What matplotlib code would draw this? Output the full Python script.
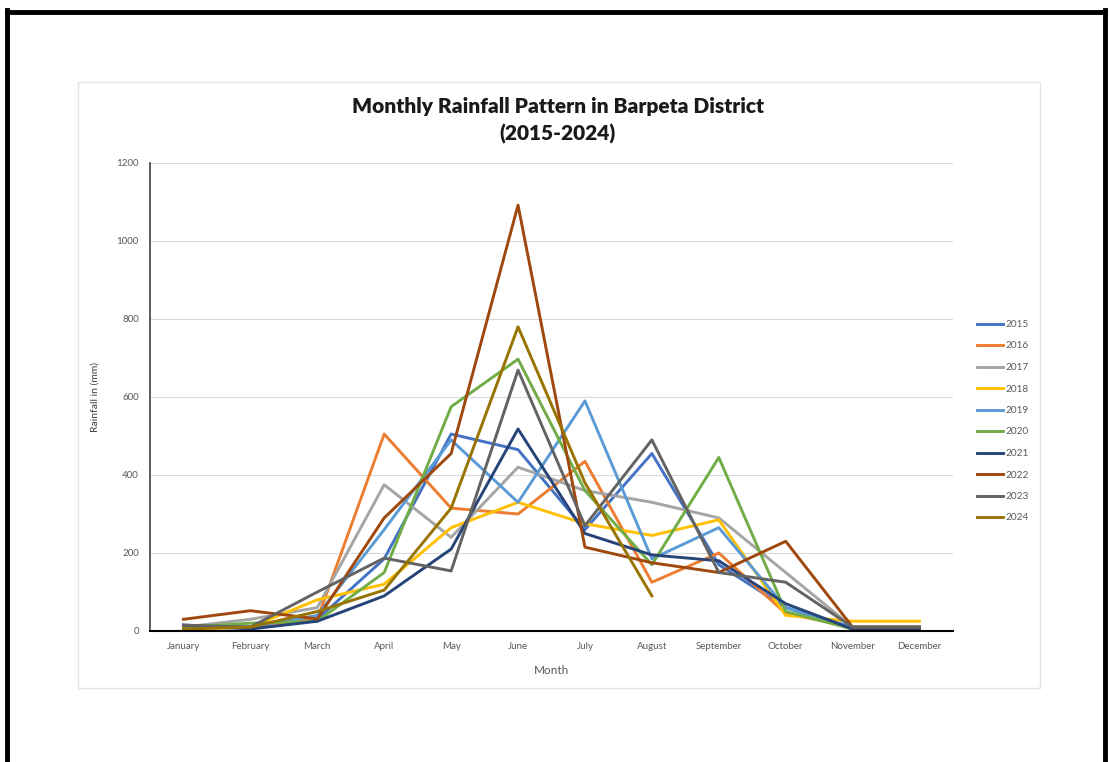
import numpy as np
import matplotlib
matplotlib.use("Agg")
import matplotlib.pyplot as plt
from matplotlib.lines import Line2D
from matplotlib.patches import Rectangle

plt.rcParams['font.family'] = ['Lato', 'DejaVu Sans']

months = ['January', 'February', 'March', 'April', 'May', 'June', 'July',
          'August', 'September', 'October', 'November', 'December']
years = ['2015', '2016', '2017', '2018', '2019', '2020', '2021', '2022', '2023', '2024']

# monthly rainfall (mm)
r2015 = [15, 10, 30, 185, 505, 465, 260, 455, 170, 60, 5, 5]
r2016 = [5, 10, 30, 505, 315, 300, 435, 125, 200, 45, 10, 10]
r2017 = [10, 30, 60, 375, 240, 420, 360, 330, 290, 150, 10, 10]
r2018 = [5, 10, 80, 120, 265, 330, 275, 245, 285, 40, 25, 25]
r2019 = [10, 10, 40, 260, 490, 330, 590, 185, 265, 60, 10, 10]
r2020 = [10, 20, 25, 150, 575, 697, 360, 170, 445, 50, 5, 5]
r2021 = [15, 5, 25, 90, 210, 518, 250, 195, 180, 70, 5, 5]
r2022 = [30, 52, 31, 290, 455, 1092, 215, 175, 150, 230, 10, 10]
r2023 = [15, 10, 100, 187, 154, 669, 270, 490, 150, 125, 10, 10]
r2024 = [5, 10, 50, 105, 315, 780, 380, 90, np.nan, np.nan, np.nan, np.nan]

series = [r2015, r2016, r2017, r2018, r2019, r2020, r2021, r2022, r2023, r2024]
colors = ['#4472C4', '#ED7D31', '#A5A5A5', '#FFC000', '#5B9BD5',
          '#70AD47', '#264478', '#9E480E', '#636363', '#997300']

W, H = 1109, 762
fig = plt.figure(figsize=(W / 100, H / 100), dpi=100)
fig.patch.set_facecolor('white')

# outer black frame (left, top, right)
fig.add_artist(Line2D([7 / W, 7 / W], [0, 1 - 10 / H], transform=fig.transFigure,
                      color='black', lw=3.5))
fig.add_artist(Line2D([7 / W, 1105 / W], [1 - 12 / H, 1 - 12 / H], transform=fig.transFigure,
                      color='black', lw=3.5))
fig.add_artist(Line2D([1105 / W, 1105 / W], [0, 1 - 10 / H], transform=fig.transFigure,
                      color='black', lw=3.5))

# chart area box
fig.add_artist(Rectangle((78 / W, 1 - 688 / H), (1040 - 78) / W, (688 - 82) / H,
                         transform=fig.transFigure, fill=False, edgecolor='#E4E4E4', lw=1))

ax = fig.add_axes([150 / W, 1 - 631 / H, 803 / W, 468 / H])
x = np.arange(len(months))
for yr, vals, c in zip(years, series, colors):
    ax.plot(x, vals, color=c, lw=2.1, label=yr)

ax.set_xlim(-0.5, 11.5)
ax.set_ylim(0, 1200)
ax.set_yticks(range(0, 1201, 200))
ax.set_xticks(x)
ax.set_xticklabels(months)
ax.tick_params(axis='both', length=0, labelsize=7, colors='#595959', pad=8)
ax.yaxis.grid(True, color='#D9D9D9', lw=0.8)
ax.set_axisbelow(True)
for s in ['top', 'right']:
    ax.spines[s].set_visible(False)
ax.spines['bottom'].set_color('black')
ax.spines['bottom'].set_linewidth(1.5)
ax.spines['left'].set_color('#404040')
ax.spines['left'].set_linewidth(1.2)

ax.set_xlabel('Month', fontsize=8.5, color='#595959', labelpad=10)
ax.set_ylabel('Rainfall in (mm)', fontsize=7.5, color='#404040', labelpad=12)

fig.text(558 / W, 1 - 106 / H, 'Monthly Rainfall Pattern in Barpeta District',
         ha='center', va='center', fontsize=15, fontweight='heavy', color='#1a1a1a')
fig.text(558 / W, 1 - 134 / H, '(2015-2024)',
         ha='center', va='center', fontsize=15, fontweight='heavy', color='#1a1a1a')

ax.legend(loc='upper left', bbox_to_anchor=(968 / W, 1 - 311 / H),
          bbox_transform=fig.transFigure, frameon=False, fontsize=7.2,
          labelcolor='#595959', handlelength=2.6, handletextpad=0.2,
          labelspacing=1.25)

fig.savefig('out.png', dpi=100, facecolor='white')
